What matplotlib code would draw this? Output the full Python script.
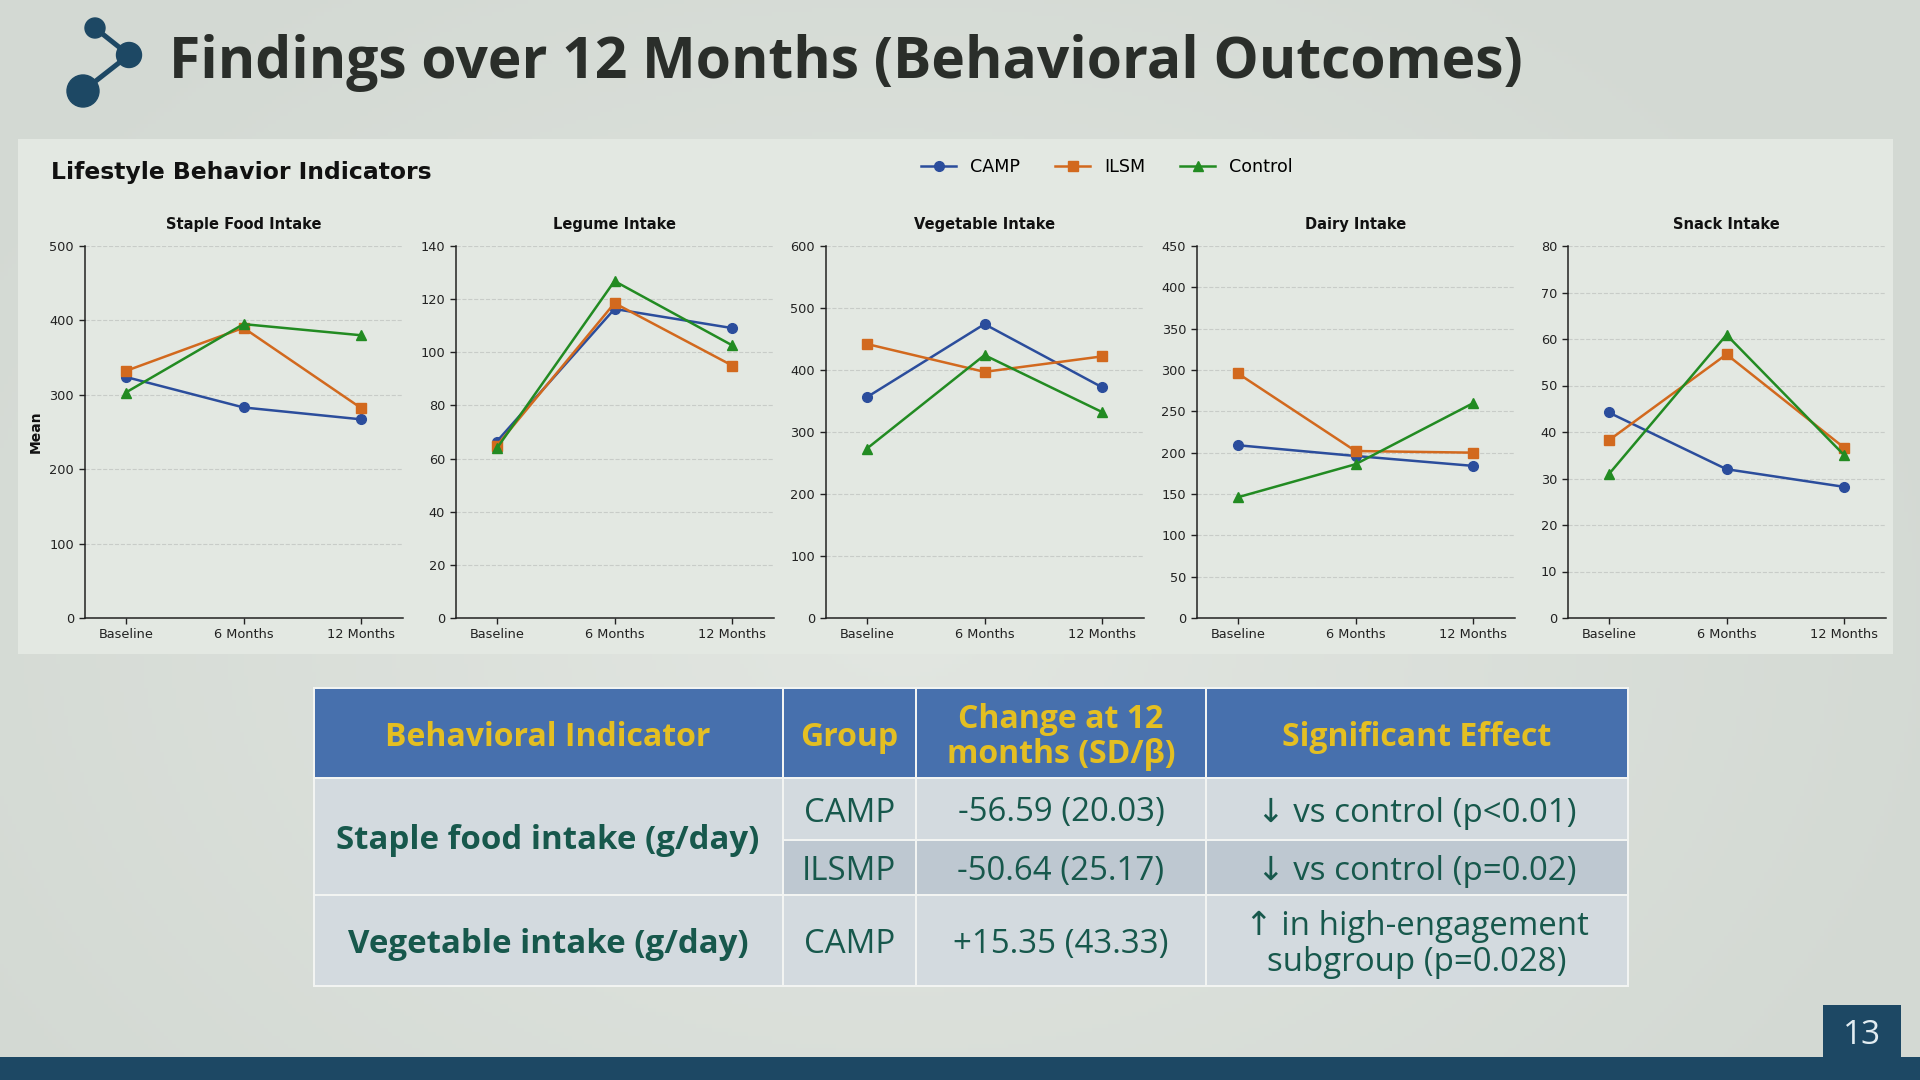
import matplotlib
matplotlib.use("Agg")
import matplotlib.pyplot as plt
import numpy as np
from matplotlib.patches import Rectangle, Circle
from matplotlib.lines import Line2D

# ---------------- data ----------------
timepoints = ["Baseline", "6 Months", "12 Months"]
groups = ["CAMP", "ILSM", "Control"]
indicators = ["Staple Food Intake", "Legume Intake", "Vegetable Intake", "Dairy Intake", "Snack Intake"]

staple_camp = [324, 283, 267]
staple_ilsm = [332, 390, 282]
staple_control = [303, 395, 380]

legume_camp = [66.4, 116.3, 109.1]
legume_ilsm = [64.8, 118.5, 95.0]
legume_control = [63.8, 126.8, 102.6]

veg_camp = [356, 474, 372]
veg_ilsm = [442, 397, 422]
veg_control = [273, 424, 332]

dairy_camp = [209, 196, 184]
dairy_ilsm = [296, 202, 200]
dairy_control = [146, 186, 260]

snack_camp = [44.2, 32.0, 28.2]
snack_ilsm = [38.2, 56.7, 36.6]
snack_control = [30.9, 60.9, 35.0]

y_max = [500, 140, 600, 450, 80]
y_step = [100, 20, 100, 50, 10]

table_header = ["Behavioral Indicator", "Group", "Change at 12\nmonths (SD/β)", "Significant Effect"]
table_indicators = ["Staple food intake (g/day)", "Vegetable intake (g/day)"]
table_groups = ["CAMP", "ILSMP", "CAMP"]
table_changes = ["-56.59 (20.03)", "-50.64 (25.17)", "+15.35 (43.33)"]
table_effects = ["↓ vs control (p<0.01)", "↓ vs control (p=0.02)", "↑ in high-engagement\nsubgroup (p=0.028)"]

title = "Findings over 12 Months (Behavioral Outcomes)"
panel_title = "Lifestyle Behavior Indicators"
page_number = "13"

series = [
    [staple_camp, staple_ilsm, staple_control],
    [legume_camp, legume_ilsm, legume_control],
    [veg_camp, veg_ilsm, veg_control],
    [dairy_camp, dairy_ilsm, dairy_control],
    [snack_camp, snack_ilsm, snack_control],
]

colors = ["#2b4d9c", "#d2691e", "#228b22"]
markers = ["o", "s", "^"]

NAVY = "#1d4864"
SANS = ["Open Sans", "DejaVu Sans"]

# ---------------- figure ----------------
W, H = 1920, 1080
fig = plt.figure(figsize=(19.2, 10.8), dpi=100)

bg = fig.add_axes([0, 0, 1, 1], zorder=0)
bg.set_xlim(0, W)
bg.set_ylim(H, 0)
bg.axis("off")

# radial gradient background
yy, xx = np.mgrid[0:H:4, 0:W:4]
r = np.sqrt(((xx - 900) / 1100.0) ** 2 + ((yy - 620) / 800.0) ** 2)
r = np.clip(r, 0, 1)
c_in = np.array([0xe2, 0xe6, 0xe1]) / 255.0
c_out = np.array([0xd3, 0xd9, 0xd3]) / 255.0
img = c_in[None, None, :] * (1 - r[..., None]) + c_out[None, None, :] * r[..., None]
bg.imshow(img, extent=[0, W, H, 0], aspect="auto", zorder=0)

# logo
logo_pts = [(95, 28, 10), (129, 55, 12.5), (83, 91, 16)]
bg.add_line(Line2D([95, 129, 83], [28, 55, 91], color=NAVY, lw=3.6, zorder=2, solid_capstyle="round"))
for (cx, cy, rr) in logo_pts:
    bg.add_patch(Circle((cx, cy), rr, color=NAVY, zorder=3))

# title
bg.text(169, 63, title, fontsize=41, fontweight="bold", family=SANS, color="#2a2e2a",
        ha="left", va="center", zorder=3)

# chart panel
bg.add_patch(Rectangle((18, 139), 1875, 515, facecolor="#e3e8e2", edgecolor="none", zorder=1))
bg.text(51, 173, panel_title, fontsize=16.9, fontweight="bold", family="DejaVu Sans",
        color="#111111", ha="left", va="center", zorder=3)

# bottom bar and page number
bg.add_patch(Rectangle((0, 1057), W, 23, facecolor=NAVY, edgecolor="none", zorder=2))
bg.add_patch(Rectangle((1823, 1005), 78, 53, facecolor=NAVY, edgecolor="none", zorder=2))
bg.text(1862, 1035, page_number, fontsize=24, family=SANS, color="#e2ecf1",
        ha="center", va="center", zorder=3)

# ---------------- small multiples ----------------
lefts = [84.5, 455.5, 825.5, 1196.5, 1567.5]
ax_w = 318
ax_top, ax_bot = 246, 618
x = np.arange(len(timepoints))
handles = []
for i, name in enumerate(indicators):
    ax = fig.add_axes([lefts[i] / W, 1 - ax_bot / H, ax_w / W, (ax_bot - ax_top) / H], zorder=2)
    ax.patch.set_alpha(0)
    for g in range(3):
        ln, = ax.plot(x, series[i][g], color=colors[g], marker=markers[g], markersize=7 if g == 0 else 6.5,
                      lw=1.8, label=groups[g])
        if i == 0:
            handles.append(ln)
    ax.set_xlim(-0.35, 2.35)
    ax.set_ylim(0, y_max[i])
    ax.set_yticks(np.arange(0, y_max[i] + 0.1, y_step[i]))
    ax.set_xticks(x)
    ax.set_xticklabels(timepoints)
    ax.tick_params(labelsize=9.3, colors="#222222", length=4, width=1)
    ax.grid(axis="y", linestyle="--", color="#c8ccc8", lw=0.8)
    ax.set_axisbelow(True)
    for s in ["top", "right"]:
        ax.spines[s].set_visible(False)
    for s in ["left", "bottom"]:
        ax.spines[s].set_color("#222222")
        ax.spines[s].set_linewidth(1.1)
    ax.set_title(name, fontsize=10.5, fontweight="bold", color="#111111", pad=12)
    if i == 0:
        ax.set_ylabel("Mean", fontsize=10, fontweight="bold", color="#111111", labelpad=5)

fig.legend(handles=handles, labels=groups, loc="center", bbox_to_anchor=(1107 / W, 1 - 167 / H),
           ncol=3, frameon=False, fontsize=12.6, handlelength=2, columnspacing=2)

# ---------------- table ----------------
col_x = [313.5, 782.5, 916, 1206, 1627.5]
row_y = [688, 778, 840, 895, 986]
HDR = "#4770ad"
CELL = "#d3dadf"
CELL_DARK = "#bec8d1"
HDR_TXT = "#e4bf22"
BODY_TXT = "#17584c"
gap = 2
DY = 4

def cell(x0, x1, y0, y1, fc):
    bg.add_patch(Rectangle((x0 + gap / 2, y0 + gap / 2), x1 - x0 - gap, y1 - y0 - gap,
                           facecolor=fc, edgecolor="none", zorder=2))

bg.add_patch(Rectangle((col_x[0] - 1, row_y[0] - 1), col_x[-1] - col_x[0] + 2, row_y[-1] - row_y[0] + 2,
                       facecolor="#f2f4f2", edgecolor="none", zorder=1.5))
for c in range(4):
    cell(col_x[c], col_x[c + 1], row_y[0], row_y[1], HDR)
    bg.text((col_x[c] + col_x[c + 1]) / 2, (row_y[0] + row_y[1]) / 2 + DY, table_header[c],
            fontsize=23, fontweight="bold", family=SANS, color=HDR_TXT, ha="center", va="center",
            linespacing=1.05, zorder=3)

# merged indicator cells
cell(col_x[0], col_x[1], row_y[1], row_y[3], CELL)
cell(col_x[0], col_x[1], row_y[3], row_y[4], CELL)
bg.text((col_x[0] + col_x[1]) / 2, (row_y[1] + row_y[3]) / 2 + DY, table_indicators[0], fontsize=23.8,
        fontweight="bold", family=SANS, color=BODY_TXT, ha="center", va="center", zorder=3)
bg.text((col_x[0] + col_x[1]) / 2, (row_y[3] + row_y[4]) / 2 + DY, table_indicators[1], fontsize=23.8,
        fontweight="bold", family=SANS, color=BODY_TXT, ha="center", va="center", zorder=3)

row_cols = [CELL, CELL_DARK, CELL]
for r_i in range(3):
    y0, y1 = row_y[r_i + 1], row_y[r_i + 2]
    texts = [table_groups[r_i], table_changes[r_i], table_effects[r_i]]
    for c in range(3):
        cell(col_x[c + 1], col_x[c + 2], y0, y1, row_cols[r_i])
        bg.text((col_x[c + 1] + col_x[c + 2]) / 2, (y0 + y1) / 2 + DY, texts[c], fontsize=23.8,
                family=SANS, color=BODY_TXT, ha="center", va="center", linespacing=1.12, zorder=3)

fig.savefig("out.png", dpi=100)
